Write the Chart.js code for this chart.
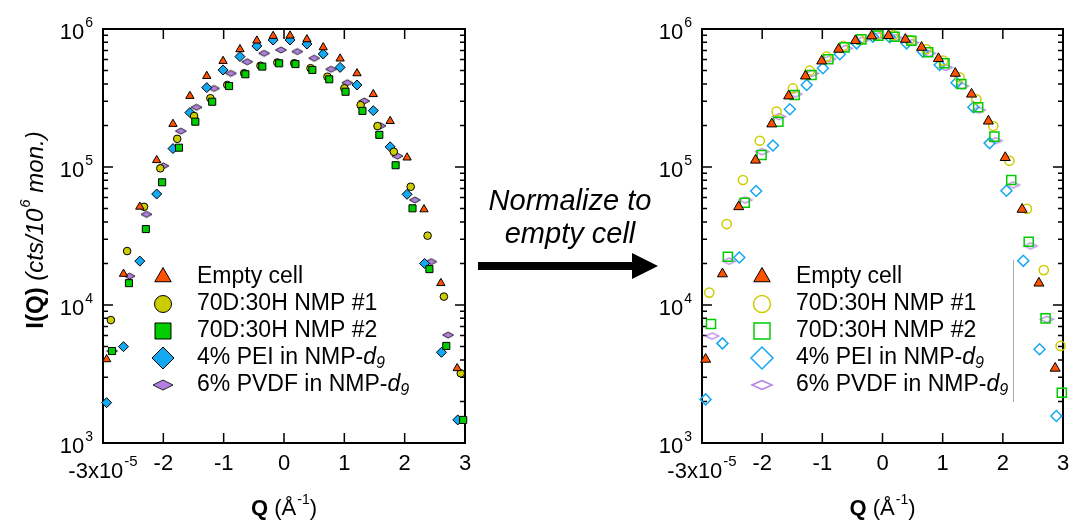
<!DOCTYPE html>
<html>
<head>
<meta charset="utf-8">
<title>SANS I(Q) before and after normalizing to the empty cell</title>
<script src="https://cdn.jsdelivr.net/npm/chart.js"></script>
<style>
  body { margin: 0; background: #fff; }
  #wrap { position: relative; width: 1071px; height: 523px; overflow: hidden; }
  canvas { position: absolute; top: 0; }
  #left { left: 0; }
  #right { left: 600px; }
  #note {
    position: absolute; left: 470px; top: 184px; width: 200px;
    text-align: center; line-height: 35px;
    font: italic 29px "Liberation Sans", Arial, sans-serif;
  }
  #arrow { position: absolute; left: 470px; top: 245px; }
</style>
</head>
<body>
<div id="wrap">
  <canvas id="left" width="480" height="523"></canvas>
  <canvas id="right" width="471" height="523"></canvas>
  <div id="note">Normalize to<br>empty cell</div>
  <svg id="arrow" width="200" height="40">
    <rect x="8" y="17" width="157" height="8" fill="#000"></rect>
    <polygon points="162,8 188,21 162,34" fill="#000"></polygon>
  </svg>
</div>

<script>
const FONT = '"Liberation Sans", Arial, Helvetica, sans-serif';

// Q is in units of 1e-5 1/A (the axis reads -3x10^-5 ... 3)
const xTickVals = [-3, -2, -1, 0, 1, 2, 3];
const xTickLabels = ['-3x10^-5', '-2', '-1', '0', '1', '2', '3'];
const yTickVals = [1e3, 1e4, 1e5, 1e6];
const yTickLabels = ['10^3', '10^4', '10^5', '10^6'];

const seriesNames = ['Empty cell', '70D:30H NMP #1', '70D:30H NMP #2', '4% PEI in NMP-d_9', '6% PVDF in NMP-d_9'];

// empty cell (same in both panels)
const emptyQ = [-2.94, -2.66, -2.39, -2.11, -1.84, -1.56, -1.28, -1.01, -0.73, -0.45, -0.18, 0.10, 0.38, 0.65, 0.93, 1.21, 1.48, 1.76, 2.04, 2.32, 2.60, 2.87];
const emptyI = [4040, 16800, 51500, 112000, 205000, 327000, 456000, 586000, 713000, 823000, 890000, 895000, 841000, 736000, 610000, 477000, 337000, 215000, 117000, 49300, 14400, 3480];

// raw data (left panel)
const nmp1Q = [-2.87, -2.60, -2.32, -2.05, -1.77, -1.49, -1.22, -0.94, -0.66, -0.39, -0.11, 0.17, 0.44, 0.72, 1.00, 1.27, 1.55, 1.82, 2.10, 2.38, 2.65, 2.93];
const nmp1I = [7780, 24600, 51500, 97800, 160000, 234000, 315000, 393000, 478000, 542000, 572000, 565000, 520000, 451000, 372000, 281000, 198000, 129000, 71900, 31800, 11500, 3200];
const nmp2Q = [-2.85, -2.57, -2.29, -2.02, -1.74, -1.47, -1.19, -0.91, -0.64, -0.36, -0.08, 0.19, 0.47, 0.75, 1.02, 1.30, 1.58, 1.85, 2.13, 2.41, 2.69, 2.97];
const nmp2I = [4640, 14400, 35500, 77500, 138000, 213000, 297000, 386000, 470000, 534000, 564000, 557000, 505000, 432000, 351000, 255000, 171000, 103000, 50200, 18200, 5050, 1470];
const peiQ = [-2.94, -2.66, -2.39, -2.11, -1.84, -1.56, -1.28, -1.01, -0.73, -0.45, -0.18, 0.10, 0.38, 0.65, 0.93, 1.21, 1.48, 1.76, 2.04, 2.33, 2.61, 2.88];
const peiI = [1960, 4990, 20800, 63700, 136000, 248000, 376000, 505000, 631000, 753000, 832000, 832000, 778000, 659000, 527000, 393000, 256000, 140000, 63400, 20000, 4540, 1470];
const pvdfQ = [-2.85, -2.56, -2.28, -2.00, -1.71, -1.45, -1.16, -0.88, -0.61, -0.33, -0.05, 0.22, 0.50, 0.78, 1.05, 1.33, 1.60, 1.88, 2.17, 2.44, 2.72];
const pvdfI = [4640, 16200, 45400, 102000, 182000, 271000, 371000, 477000, 579000, 667000, 705000, 686000, 614000, 511000, 408000, 301000, 199000, 120000, 57700, 20600, 6060];

// normalized to empty cell (right panel)
const nmp1NormQ = [-2.88, -2.59, -2.32, -2.04, -1.76, -1.49, -1.21, -0.93, -0.65, -0.38, -0.10, 0.18, 0.45, 0.73, 1.01, 1.28, 1.56, 1.84, 2.11, 2.40, 2.68, 2.96];
const nmp1NormI = [12300, 38600, 80500, 155000, 252000, 371000, 499000, 631000, 753000, 841000, 905000, 905000, 832000, 713000, 589000, 447000, 309000, 198000, 111000, 49700, 17900, 5050];
const nmp2NormQ = [-2.85, -2.57, -2.29, -2.01, -1.73, -1.46, -1.18, -0.90, -0.63, -0.35, -0.07, 0.20, 0.48, 0.76, 1.03, 1.31, 1.59, 1.86, 2.14, 2.43, 2.71, 2.98];
const nmp2NormI = [7280, 22400, 55000, 122000, 213000, 333000, 464000, 603000, 736000, 841000, 895000, 880000, 823000, 678000, 564000, 399000, 271000, 166000, 80500, 28700, 8000, 2310];
const peiNormQ = [-2.94, -2.66, -2.38, -2.10, -1.82, -1.54, -1.26, -0.99, -0.71, -0.43, -0.16, 0.12, 0.40, 0.67, 0.95, 1.23, 1.51, 1.78, 2.06, 2.34, 2.61, 2.89];
const peiNormI = [2070, 5270, 22100, 67000, 143000, 262000, 393000, 519000, 656000, 787000, 880000, 871000, 787000, 686000, 548000, 408000, 271000, 149000, 67300, 20900, 4780, 1570];
const pvdfNormQ = [-2.83, -2.55, -2.28, -2.00, -1.72, -1.45, -1.17, -0.89, -0.61, -0.34, -0.06, 0.22, 0.49, 0.77, 1.05, 1.32, 1.60, 1.88, 2.17, 2.46, 2.73];
const pvdfNormI = [5960, 20800, 57700, 129000, 232000, 338000, 477000, 606000, 725000, 832000, 895000, 865000, 796000, 667000, 527000, 386000, 259000, 155000, 74100, 26800, 7880];

const ORANGE = '#ff5200';
const YELLOW = '#cccc00';
const GREEN = '#00cc00';
const BLUE = '#14a8f2';
const PURPLE = '#b27ee2';

// flattened diamond marker, drawn once into a small canvas
function flatDiamond(w, h, fill, stroke, lw) {
  const c = document.createElement('canvas');
  c.width = Math.ceil(w + 2 * lw + 2);
  c.height = Math.ceil(h + 2 * lw + 2);
  const g = c.getContext('2d');
  const cx = c.width / 2, cy = c.height / 2;
  g.beginPath();
  g.moveTo(cx - w / 2, cy);
  g.lineTo(cx, cy - h / 2);
  g.lineTo(cx + w / 2, cy);
  g.lineTo(cx, cy + h / 2);
  g.closePath();
  if (fill) { g.fillStyle = fill; g.fill(); }
  g.lineWidth = lw;
  g.strokeStyle = stroke;
  g.stroke();
  return c;
}

function series(qs, is, style, order) {
  return {
    data: qs.map((q, i) => ({ x: q, y: is[i] })),
    pointStyle: style.shape,
    pointRadius: style.r,
    pointBackgroundColor: style.fill || 'rgba(0,0,0,0)',
    pointBorderColor: style.stroke,
    pointBorderWidth: style.lw,
    showLine: false,
    clip: false,
    order
  };
}

// legend markers per panel (kept out of chart options so they are not proxied)
const legendMarks = {
  left: [
    { shape: 'triangle', r: 9.5, fill: ORANGE, stroke: '#000', lw: 1 },
    { shape: 'circle', r: 8.5, fill: YELLOW, stroke: '#000', lw: 1 },
    { shape: 'rect', r: 8, fill: GREEN, stroke: '#000', lw: 1 },
    { shape: 'diamond', r: 11, fill: BLUE, stroke: '#000', lw: 1 },
    { img: flatDiamond(20, 10, PURPLE, '#222', 1) }
  ],
  right: [
    { shape: 'triangle', r: 9.5, fill: ORANGE, stroke: '#000', lw: 1 },
    { shape: 'circle', r: 8.5, fill: null, stroke: YELLOW, lw: 1.5 },
    { shape: 'rect', r: 8, fill: null, stroke: GREEN, lw: 1.5 },
    { shape: 'diamond', r: 11, fill: null, stroke: BLUE, lw: 1.5 },
    { img: flatDiamond(20, 9, null, PURPLE, 1.5) }
  ]
};

// ---- text helpers ----
function supParts(label, size, supSize, dy) {
  const [base, sup] = label.split('^');
  const parts = [{ t: base, font: `${size}px ${FONT}`, dy: 0 }];
  if (sup) parts.push({ t: sup, font: `${supSize}px ${FONT}`, dy, gap: 1 });
  return parts;
}
function partsWidth(ctx, parts) {
  return parts.reduce((w, p) => { ctx.font = p.font; return w + ctx.measureText(p.t).width + (p.gap || 0); }, 0);
}
function drawParts(ctx, parts, x, y) {
  ctx.textAlign = 'left';
  ctx.textBaseline = 'middle';
  parts.forEach(p => {
    ctx.font = p.font;
    x += p.gap || 0;
    ctx.fillText(p.t, x, y + (p.dy || 0));
    x += ctx.measureText(p.t).width;
  });
}
function labelParts(name) {
  const [head, sub] = name.split('_');
  if (!sub) return [{ t: name, font: `23px ${FONT}` }];
  return [
    { t: head.slice(0, -1), font: `23px ${FONT}` },
    { t: head.slice(-1), font: `italic 23px ${FONT}` },
    { t: sub, font: `italic 16px ${FONT}`, dy: 6 }
  ];
}

function drawMark(ctx, m, x, y) {
  if (m.img) { ctx.drawImage(m.img, x - m.img.width / 2, y - m.img.height / 2); return; }
  ctx.save();
  ctx.beginPath();
  const r = m.r;
  if (m.shape === 'triangle') {
    ctx.moveTo(x, y - r);
    ctx.lineTo(x + r * 0.866, y + r / 2);
    ctx.lineTo(x - r * 0.866, y + r / 2);
    ctx.closePath();
  } else if (m.shape === 'circle') {
    ctx.arc(x, y, r, 0, Math.PI * 2);
  } else if (m.shape === 'rect') {
    ctx.rect(x - r, y - r, 2 * r, 2 * r);
  } else {
    ctx.moveTo(x - r, y); ctx.lineTo(x, y - r); ctx.lineTo(x + r, y); ctx.lineTo(x, y + r); ctx.closePath();
  }
  if (m.fill) { ctx.fillStyle = m.fill; ctx.fill(); }
  ctx.lineWidth = m.lw;
  ctx.strokeStyle = m.stroke;
  ctx.stroke();
  ctx.restore();
}

// frame with inward ticks, drawn under the markers
const framePlugin = {
  id: 'frame',
  beforeDatasetsDraw(chart) {
    const { ctx, chartArea: a, scales: { x, y } } = chart;
    ctx.save();
    ctx.strokeStyle = '#000';
    ctx.lineWidth = 1.5;
    ctx.beginPath();
    xTickVals.forEach(v => {
      const px = x.getPixelForValue(v);
      ctx.moveTo(px, a.bottom); ctx.lineTo(px, a.bottom - 10);
      ctx.moveTo(px, a.top); ctx.lineTo(px, a.top + 10);
    });
    for (let d = 3; d < 6; d++) {
      for (let m = 1; m < 10; m++) {
        const py = y.getPixelForValue(m * Math.pow(10, d));
        const len = m === 1 ? 10 : 5;
        ctx.moveTo(a.left, py); ctx.lineTo(a.left + len, py);
        ctx.moveTo(a.right, py); ctx.lineTo(a.right - len, py);
      }
    }
    ctx.stroke();
    ctx.lineWidth = 2;
    ctx.strokeRect(a.left, a.top, a.right - a.left, a.bottom - a.top);
    ctx.restore();
  },
  afterDraw(chart) {
    const { ctx, chartArea: a, scales: { x, y } } = chart;
    const id = chart.canvas.id;
    ctx.save();
    ctx.fillStyle = '#000';

    yTickVals.forEach((v, i) => {
      const parts = supParts(yTickLabels[i], 22, 14, -10);
      const w = partsWidth(ctx, parts);
      drawParts(ctx, parts, a.left - 10 - w, y.getPixelForValue(v) + 4);
    });
    xTickVals.forEach((v, i) => {
      const parts = supParts(xTickLabels[i], 22, 15, -10);
      const w = partsWidth(ctx, parts);
      const drop = parts.length > 1 ? 29 : 21;
      drawParts(ctx, parts, x.getPixelForValue(v) - w / 2, a.bottom + drop);
    });

    const xt = [
      { t: 'Q', font: `bold 22px ${FONT}` },
      { t: ' (\u00c5', font: `22px ${FONT}` },
      { t: '-1', font: `14px ${FONT}`, dy: -9, gap: 1 },
      { t: ')', font: `22px ${FONT}` }
    ];
    drawParts(ctx, xt, (a.left + a.right) / 2 - partsWidth(ctx, xt) / 2, a.bottom + 66);

    if (id === 'left') {
      const yt = [
        { t: 'I(Q)', font: `bold 24px ${FONT}` },
        { t: ' (cts/10', font: `italic 24px ${FONT}` },
        { t: '6', font: `italic 15px ${FONT}`, dy: -10, gap: 1 },
        { t: ' mon.)', font: `italic 24px ${FONT}` }
      ];
      ctx.translate(a.left - 67, (a.top + a.bottom) / 2 - 6);
      ctx.rotate(-Math.PI / 2);
      drawParts(ctx, yt, -partsWidth(ctx, yt) / 2, 0);
      ctx.setTransform(1, 0, 0, 1, 0, 0);
    }

    // legend
    legendMarks[id].forEach((m, i) => {
      const ly = 277 + i * 27;
      drawMark(ctx, m, a.left + 60, ly);
      ctx.fillStyle = '#000';
      drawParts(ctx, labelParts(seriesNames[i]), a.left + 94, ly);
    });
    if (id === 'right') {
      ctx.strokeStyle = '#aaa';
      ctx.lineWidth = 1;
      ctx.beginPath();
      ctx.moveTo(a.left + 311.5, 260); ctx.lineTo(a.left + 311.5, 402);
      ctx.stroke();
    }
    ctx.restore();
  }
};

function makeChart(id, datasets, padding) {
  return new Chart(document.getElementById(id), {
    type: 'scatter',
    data: { datasets },
    options: {
      responsive: false,
      animation: false,
      events: [],
      layout: { padding },
      plugins: { legend: { display: false }, tooltip: { enabled: false } },
      scales: {
        x: { type: 'linear', min: -3, max: 3, display: false },
        y: { type: 'logarithmic', min: 1e3, max: 1e6, display: false }
      }
    },
    plugins: [framePlugin]
  });
}

// left: raw intensities, filled markers
const rawStyles = [
  { shape: 'triangle', r: 4.8, fill: ORANGE, stroke: '#000', lw: 1 },
  { shape: 'circle', r: 3.8, fill: YELLOW, stroke: '#000', lw: 1 },
  { shape: 'rect', r: 5, fill: GREEN, stroke: '#000', lw: 1 },
  { shape: 'rectRot', r: 5, fill: BLUE, stroke: '#000', lw: 1 },
  { shape: flatDiamond(11, 6, PURPLE, '#222', 1), r: 5, fill: PURPLE, stroke: '#222', lw: 1 }
];
makeChart('left', [
  series(emptyQ, emptyI, rawStyles[0], 0),
  series(nmp1Q, nmp1I, rawStyles[1], 2),
  series(nmp2Q, nmp2I, rawStyles[2], 1),
  series(peiQ, peiI, rawStyles[3], 3),
  series(pvdfQ, pvdfI, rawStyles[4], 4)
], { left: 103, right: 15, top: 29, bottom: 80 });

// right: normalized to the empty cell, open markers
const normStyles = [
  { shape: 'triangle', r: 5.8, fill: ORANGE, stroke: '#000', lw: 1 },
  { shape: 'circle', r: 4.6, stroke: YELLOW, lw: 1.5 },
  { shape: 'rect', r: 6.4, stroke: GREEN, lw: 1.5 },
  { shape: 'rectRot', r: 5.5, stroke: BLUE, lw: 1.5 },
  { shape: flatDiamond(13, 6, null, PURPLE, 1.3), r: 5, stroke: PURPLE, lw: 1.3 }
];
makeChart('right', [
  series(emptyQ, emptyI, normStyles[0], 0),
  series(nmp1NormQ, nmp1NormI, normStyles[1], 2),
  series(nmp2NormQ, nmp2NormI, normStyles[2], 1),
  series(peiNormQ, peiNormI, normStyles[3], 3),
  series(pvdfNormQ, pvdfNormI, normStyles[4], 4)
], { left: 102, right: 8, top: 29, bottom: 80 });
</script>
</body>
</html>
